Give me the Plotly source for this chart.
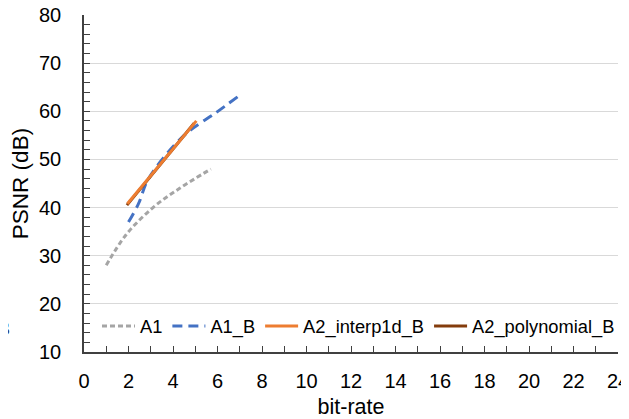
import plotly.graph_objects as go

a1_x = [1.0, 1.9, 3.1, 4.3, 5.7]
a1_y = [28.0, 34.4, 40.0, 44.0, 48.0]
a1b_x = [2.0, 2.45, 2.9, 4.5, 5.9, 6.9]
a1b_y = [37.0, 40.8, 46.0, 55.0, 59.6, 63.0]
interp_x = [1.95, 5.05]
interp_y = [40.8, 58.0]
poly_x = [1.93, 4.95]
poly_y = [40.5, 57.5]

x_ticks = list(range(0, 25, 2))
y_ticks = list(range(10, 81, 10))

# page body has an 8px margin; compensate so the plot area lands at 84..618 x 15..352
OFF = 8
W, H = 629 - OFF, 419 - OFF
L, R, T, B = 84 - OFF, 11, 15 - OFF, 67
PW, PH = W - L - R, H - T - B

fig = go.Figure()
fig.add_trace(go.Scatter(x=a1_x, y=a1_y, mode="lines", name="A1", legendrank=1,
                         line=dict(color="#A5A5A5", width=3, dash="5px,3px", shape="spline")))
fig.add_trace(go.Scatter(x=a1b_x, y=a1b_y, mode="lines", name="A1_B", legendrank=2,
                         line=dict(color="#4472C4", width=3, dash="10px,6px", shape="spline")))
fig.add_trace(go.Scatter(x=poly_x, y=poly_y, mode="lines", name="A2_polynomial_B", legendrank=4,
                         line=dict(color="#843C0C", width=3)))
fig.add_trace(go.Scatter(x=interp_x, y=interp_y, mode="lines", name="A2_interp1d_B", legendrank=3,
                         line=dict(color="#ED7D31", width=3)))

fig.add_annotation(xref="paper", yref="paper", x=(-4 - L) / PW, y=(352 - 329) / PH,
                   text="B", showarrow=False, xanchor="center", yanchor="middle",
                   font=dict(size=18, color="#2F3A6A"))

fig.update_layout(
    width=W, height=H,
    margin=dict(l=L, r=R, t=T, b=B),
    paper_bgcolor="white", plot_bgcolor="white",
    font=dict(family="Liberation Sans, Arial, sans-serif", color="#000000", size=20),
    showlegend=True,
    legend=dict(orientation="h", x=(97 - 84) / PW, y=(352 - 326) / PH, xanchor="left", yanchor="middle",
                font=dict(size=18.3, color="#000000"), bgcolor="rgba(0,0,0,0)",
                itemwidth=33, traceorder="normal"),
    xaxis=dict(range=[0, 24], tickvals=x_ticks, ticks="inside", ticklen=6, tickcolor="#404040",
               minor=dict(dtick=1, ticks="inside", ticklen=6, tickcolor="#404040"),
               showline=True, linecolor="#404040", linewidth=1.5, showgrid=False, zeroline=False,
               automargin=False, ticklabelstandoff=10, ticklabeloverflow="allow",
               title=dict(text="bit-rate", font=dict(size=21.5), standoff=18),
               tickfont=dict(size=20)),
    yaxis=dict(range=[10, 80], tickvals=y_ticks, ticks="inside", ticklen=6, tickcolor="#404040",
               minor=dict(dtick=2, ticks="inside", ticklen=6, tickcolor="#404040", showgrid=False),
               showline=True, linecolor="#404040", linewidth=1.5, showgrid=True, gridcolor="#D9D9D9",
               gridwidth=1, zeroline=False, automargin=False, ticklabelstandoff=17,
               ticklabeloverflow="allow",
               title=dict(text="PSNR (dB)", font=dict(size=22.5), standoff=4),
               tickfont=dict(size=20)),
)

fig.write_html("out.html")
